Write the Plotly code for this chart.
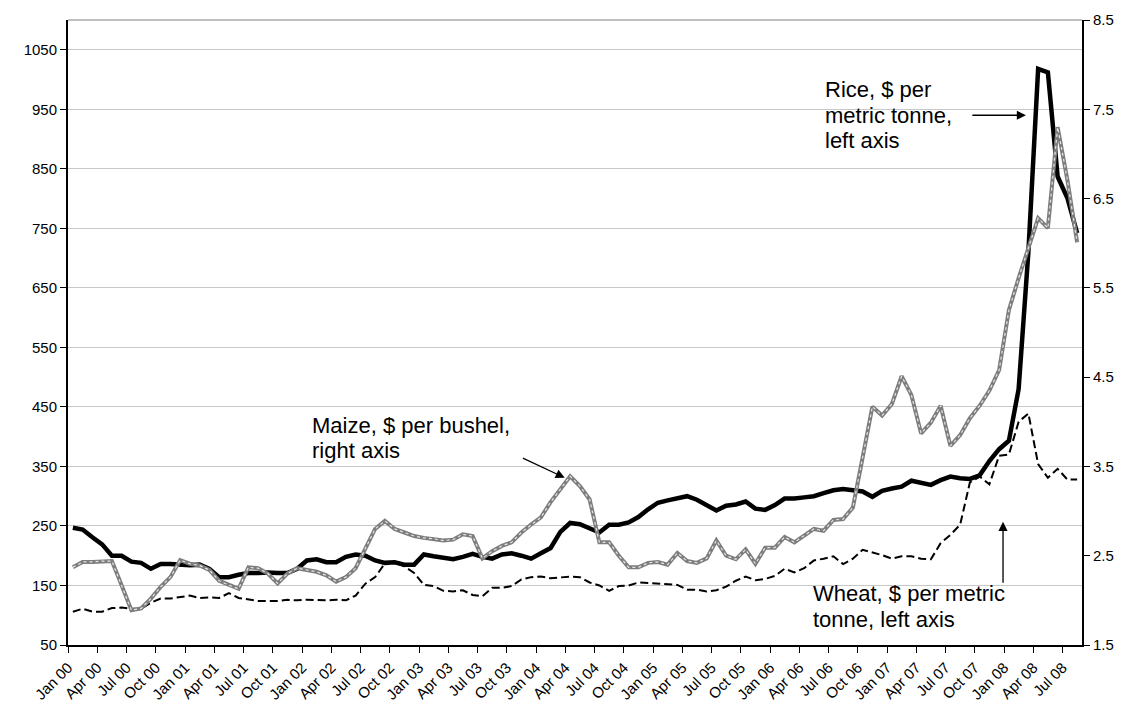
import plotly.graph_objects as go

# ---- data (Jan 2000 .. Aug 2008, monthly) ----
month_names = ["Jan", "Feb", "Mar", "Apr", "May", "Jun", "Jul", "Aug", "Sep", "Oct", "Nov", "Dec"]
months = [f"{month_names[k % 12]} {k // 12:02d}" for k in range(104)]

tick_labels = ["Jan 00", "Apr 00", "Jul 00", "Oct 00", "Jan 01", "Apr 01", "Jul 01", "Oct 01",
               "Jan 02", "Apr 02", "Jul 02", "Oct 02", "Jan 03", "Apr 03", "Jul 03", "Oct 03",
               "Jan 04", "Apr 04", "Jul 04", "Oct 04", "Jan 05", "Apr 05", "Jul 05", "Oct 05",
               "Jan 06", "Apr 06", "Jul 06", "Oct 06", "Jan 07", "Apr 07", "Jul 07", "Oct 07",
               "Jan 08", "Apr 08", "Jul 08"]

# Rice, $ per metric tonne (left axis)
rice = [247, 244, 231, 219, 200, 200, 190, 188, 178, 186, 186, 185, 184, 185, 178, 164, 164, 168, 171, 171,
        172, 171, 171, 178, 192, 194, 189, 189, 198, 202, 200, 192, 188,
        189, 185, 185, 202, 199, 197, 194, 198, 203, 198, 195, 202, 204, 200, 195, 204, 213, 240, 255, 253,
        245, 239, 252, 252, 256, 265, 278, 289, 293, 296, 300, 294,
        285, 276, 284, 286, 291,
        279, 277, 285, 296, 296, 298, 300, 305, 310, 312, 310, 308, 299, 309, 313, 316, 326, 322,
        319, 327, 333, 330, 329, 335, 359, 379, 393,
        480, 710, 1018, 1012, 837, 801, 742]

# Wheat, $ per metric tonne (left axis)
wheat = [106, 111, 106, 106, 112, 113, 111, 111, 121, 128, 128, 130, 133, 129, 130, 129, 137, 129, 126, 124,
         124, 124, 126, 125, 126, 125, 125, 126, 125, 133, 153, 164, 187,
         189, 182, 171, 151, 149, 141, 140, 142, 134, 132, 146, 146, 149, 160, 164, 165, 162, 164, 165, 164,
         155, 150, 141, 149, 150, 155, 154, 153, 151, 151, 143, 143,
         140, 142, 148, 158, 165,
         159, 161, 166, 178, 172, 179, 192, 195, 199, 186, 195, 210, 206, 201, 195, 199, 199, 195,
         194, 221, 235, 252, 323, 333, 320, 368, 370, 425, 439, 354, 331, 346, 328, 328]

# Maize, $ per bushel (right axis)
maize = [2.37, 2.43, 2.43, 2.44, 2.44, 2.17, 1.89, 1.91, 2.02, 2.15, 2.26, 2.45, 2.41, 2.39, 2.34, 2.22,
         2.17, 2.13, 2.37, 2.36, 2.30, 2.19, 2.30, 2.36, 2.34, 2.32, 2.28, 2.21, 2.26, 2.36, 2.58, 2.80, 2.89,
         2.80, 2.76, 2.72, 2.70, 2.69, 2.67, 2.68, 2.74, 2.72, 2.47, 2.55, 2.61, 2.65, 2.76, 2.85, 2.93,
         3.10, 3.25, 3.39, 3.28, 3.13, 2.65, 2.65, 2.50, 2.37, 2.37, 2.42, 2.43, 2.40, 2.53, 2.44, 2.42,
         2.47, 2.67, 2.50, 2.46, 2.57,
         2.41, 2.59, 2.59, 2.71, 2.65, 2.73, 2.80, 2.78, 2.90, 2.91, 3.04, 3.60, 4.17, 4.07, 4.20, 4.51, 4.30, 3.87,
         3.99, 4.18, 3.73, 3.85, 4.04, 4.18, 4.35, 4.58, 5.25, 5.61, 5.94, 6.28, 6.17, 7.30, 6.71, 6.01]

left_ticks = [50, 150, 250, 350, 450, 550, 650, 750, 850, 950, 1050]
right_ticks = [1.5, 2.5, 3.5, 4.5, 5.5, 6.5, 7.5, 8.5]

# ---- figure ----
x = list(range(len(months)))
tick_pos = [months.index(t) - 0.5 for t in tick_labels]
FONT = "Liberation Sans, Arial, sans-serif"

fig = go.Figure()
fig.add_trace(go.Scatter(x=x, y=wheat, mode="lines", name="Wheat",
                         line=dict(color="black", width=2, dash="8px,4px"), yaxis="y"))
fig.add_trace(go.Scatter(x=x, y=rice, mode="lines", name="Rice",
                         line=dict(color="black", width=4.5), yaxis="y"))
fig.add_trace(go.Scatter(x=x, y=maize, mode="lines", name="Maize",
                         line=dict(color="#7d7d7d", width=4), yaxis="y2"))
fig.add_trace(go.Scatter(x=x, y=maize, mode="lines", name="Maize texture",
                         line=dict(color="#e4e4e4", width=1.2, dash="dot"), yaxis="y2"))

ann_font = dict(family=FONT, size=22, color="black")
texts = [
    ("Maize, $ per bushel,", 24.3, 419),
    ("right axis", 24.3, 377),
    ("Rice, $ per", 76.9, 983),
    ("metric tonne,", 76.9, 940),
    ("left axis", 76.9, 897),
    ("Wheat, $ per metric", 75.7, 136),
    ("tonne, left axis", 75.7, 93),
]
annotations = [dict(text=t, x=xx, y=yy, xref="x", yref="y", xanchor="left", yanchor="middle",
                    showarrow=False, font=ann_font) for t, xx, yy in texts]
arrows = [
    (50.45, 331, 46.0, 365),     # maize
    (97.75, 940, 92.1, 940),     # rice
    (95.4, 257, 95.4, 152),      # wheat
]
for hx, hy, tx, ty in arrows:
    annotations.append(dict(text="", x=hx, y=hy, ax=tx, ay=ty, xref="x", yref="y", axref="x", ayref="y",
                            showarrow=True, arrowhead=2, arrowsize=1.4, arrowwidth=1.3,
                            arrowcolor="black", standoff=0, startstandoff=0))

fig.update_layout(
    width=1122, height=702,
    margin=dict(l=60, r=48, t=12, b=65),
    paper_bgcolor="white", plot_bgcolor="white",
    showlegend=False,
    font=dict(family=FONT, size=15, color="black"),
    annotations=annotations,
    xaxis=dict(range=[-0.5, 103.5], tickmode="array", tickvals=tick_pos, ticktext=tick_labels,
               tickangle=-45, ticks="outside", ticklen=6, tickwidth=1, tickcolor="black",
               showline=True, linecolor="black", linewidth=2, showgrid=False, zeroline=False,
               tickfont=dict(size=15), automargin=False),
    yaxis=dict(range=[50, 1100], tickmode="array", tickvals=left_ticks,
               ticks="outside", ticklen=6, tickwidth=1, tickcolor="black",
               showline=True, linecolor="black", linewidth=2,
               showgrid=True, gridcolor="#c8c8c8", gridwidth=1, zeroline=False,
               tickfont=dict(size=15), automargin=False),
    yaxis2=dict(range=[1.5, 8.5], overlaying="y", side="right", tickmode="array",
                tickvals=right_ticks, tickformat=".1f",
                ticks="outside", ticklen=6, tickwidth=1, tickcolor="black",
                showline=True, linecolor="black", linewidth=2, showgrid=False, zeroline=False,
                tickfont=dict(size=15), automargin=False),
    shapes=[dict(type="line", xref="x domain", yref="y domain", x0=0, x1=1, y0=1, y1=1,
                 line=dict(color="#808080", width=1))],
)

fig.write_html("out.html")
